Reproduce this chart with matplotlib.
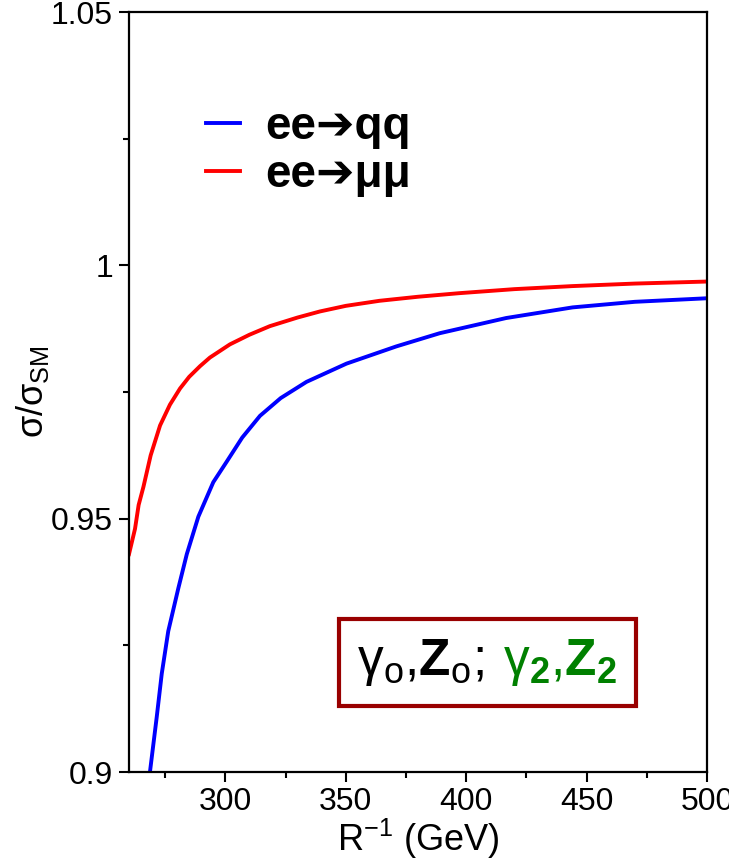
import matplotlib
matplotlib.use("Agg")
import matplotlib.pyplot as plt
from matplotlib.offsetbox import TextArea, HPacker, AnchoredOffsetbox
from matplotlib.ticker import FixedLocator, MultipleLocator, FuncFormatter

plt.rcParams["font.family"] = ["Liberation Sans", "DejaVu Sans"]
plt.rcParams["mathtext.fontset"] = "custom"
plt.rcParams["mathtext.rm"] = "Liberation Sans"
plt.rcParams["mathtext.it"] = "Liberation Sans:italic"
plt.rcParams["mathtext.bf"] = "Liberation Sans:bold"
plt.rcParams["mathtext.default"] = "rm"

# ee -> mumu
r_mumu = [260, 262.5, 264, 266, 269, 272.9, 277, 281.2, 285, 289.5, 293.6, 301.9,
          310, 318.5, 330, 339.3, 350, 364, 380, 397, 420, 444, 470, 500]
ratio_mumu = [0.943, 0.948, 0.9527, 0.9563, 0.9625, 0.9684, 0.9725, 0.9757, 0.978,
              0.9801, 0.9818, 0.9844, 0.9863, 0.988, 0.9897, 0.9909, 0.992, 0.993,
              0.9938, 0.9945, 0.9953, 0.9959, 0.9964, 0.9968]

# ee -> qq
r_qq = [268.7, 271.5, 273.6, 276.3, 280.5, 284, 288.8, 295, 300.5, 307, 314.4, 323,
        333.7, 350.3, 371, 389, 416.6, 444.2, 470, 500]
ratio_qq = [0.9, 0.9108, 0.9194, 0.9278, 0.9363, 0.943, 0.9504, 0.9572, 0.9612, 0.966,
            0.9703, 0.9738, 0.977, 0.9806, 0.984, 0.9866, 0.9896, 0.9917, 0.9928, 0.9935]

x_ticks = [300, 350, 400, 450, 500]
y_ticks = [0.9, 0.95, 1.0, 1.05]

fig = plt.figure(figsize=(7.29, 8.66), dpi=100)
ax = fig.add_axes([129 / 729, 1 - 772 / 866, 578 / 729, 760 / 866])

ax.plot(r_qq, ratio_qq, color="#0000ff", lw=2.8, label="ee\u2794qq")
ax.plot(r_mumu, ratio_mumu, color="#ff0000", lw=2.8, label="ee\u2794\u03bc\u03bc")

ax.set_xlim(260, 500)
ax.set_ylim(0.9, 1.05)
ax.xaxis.set_major_locator(FixedLocator(x_ticks))
ax.xaxis.set_minor_locator(MultipleLocator(25))
ax.yaxis.set_major_locator(FixedLocator(y_ticks))
ax.yaxis.set_minor_locator(MultipleLocator(0.025))
ax.yaxis.set_major_formatter(FuncFormatter(lambda v, p: f"{v:g}"))

for s in ax.spines.values():
    s.set_linewidth(1.6)
ax.tick_params(which="both", direction="out", width=1.5, labelsize=23,
               top=False, right=False)
ax.tick_params(axis="x", which="major", length=7.5, pad=3)
ax.tick_params(axis="x", which="minor", length=4)
ax.tick_params(axis="y", which="major", length=7.5, pad=4)
ax.tick_params(axis="y", which="minor", length=4)

ax.set_xlabel(r"R$^{-1}$ (GeV)", fontsize=26, labelpad=0)
ax.set_ylabel(r"$\sigma/\sigma_{SM}$", fontsize=26)
ax.yaxis.set_label_coords(-0.135, 0.5)

leg = ax.legend(loc="center left", bbox_to_anchor=(0.133, 0.817), frameon=False,
                borderpad=0, borderaxespad=0, handlelength=0.75, handletextpad=0.55,
                labelspacing=0.1, prop={"weight": "bold", "size": 33})

black = TextArea(r"$\gamma_o$,$\mathbf{Z}_o$;", textprops=dict(color="black", fontsize=37))
green = TextArea(r"$\gamma_\mathbf{2}$,$\mathbf{Z}_\mathbf{2}$",
                 textprops=dict(color="#008000", fontsize=37))
pack = HPacker(children=[black, green], align="baseline", pad=0, sep=14)
box = AnchoredOffsetbox(loc="center", child=pack, pad=0.65, borderpad=0, frameon=True,
                        bbox_to_anchor=(0.62, 0.144), bbox_transform=ax.transAxes,
                        prop=dict(size=20))
box.patch.set_boxstyle("square,pad=0")
box.patch.set_edgecolor("#990000")
box.patch.set_linewidth(3)
ax.add_artist(box)

fig.savefig("out.png", dpi=100)
